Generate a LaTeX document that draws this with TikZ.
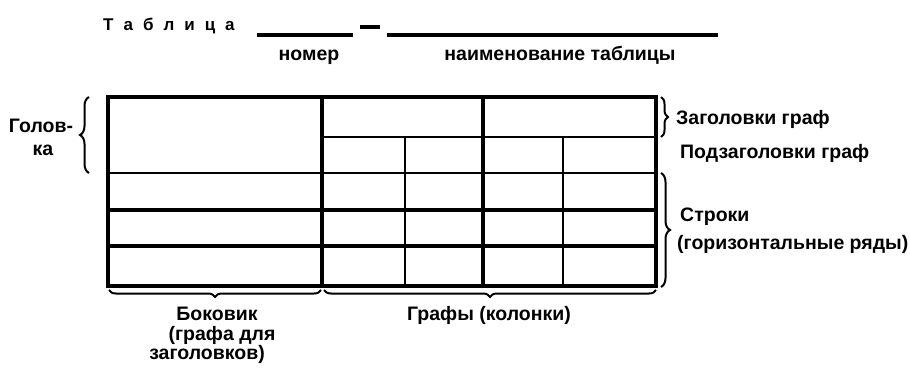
\documentclass[tikz,border=0pt]{standalone}
\usepackage{fontspec}
\setmainfont{Liberation Sans}
\usetikzlibrary{decorations.pathreplacing}
\begin{document}
\begin{tikzpicture}[x=1pt,y=-1pt,
  lbl/.style={font=\fontsize{19.5}{21}\selectfont\bfseries, inner sep=0pt},
  thick rule/.style={line width=3.2pt},
  thin rule/.style={line width=2.3pt},
  title rule/.style={line width=3.2pt},
  bracebig/.style={decorate, decoration={brace, amplitude=9pt}, line width=2pt},
  bracesmall/.style={decorate, decoration={brace, amplitude=7pt}, line width=2pt}]
\useasboundingbox[fill=white] (0,0) rectangle (910,369);

% title
\node[lbl, anchor=base west, font=\fontsize{17}{19}\selectfont\bfseries] (title) at (103,31)
  {Т\hspace{10pt}а\hspace{10pt}б\hspace{10pt}л\hspace{10pt}и\hspace{10pt}ц\hspace{10pt}а};
\draw[title rule] (257,35) -- (353,35);
\draw[title rule] (360,27) -- (380,27);
\draw[title rule] (387,35) -- (718,35);
\node[lbl, anchor=base] (nomer) at (309,61) {номер};
\node[lbl, anchor=base] (naim) at (560,61) {наименование таблицы};

% table
\draw[thick rule] (108,97) rectangle (656,286);
\draw[thin rule] (322,137) -- (656,137);
\draw[thin rule] (108,173) -- (656,173);
\draw[thick rule] (108,210) -- (656,210);
\draw[thick rule] (108,246) -- (656,246);
\draw[thick rule] (322,97) -- (322,286);
\draw[thick rule] (483,97) -- (483,286);
\draw[thin rule] (405,137) -- (405,286);
\draw[thin rule] (563,137) -- (563,286);

% braces
\draw[bracebig] (89,173) -- (89,97);
\draw[bracesmall] (661,97) -- (661,137);
\draw[bracebig] (661,173) -- (661,287);
\draw[bracesmall] (321,290) -- (109,290);
\draw[bracesmall] (656,290) -- (324,290);

% labels
\node[lbl, anchor=base] (golov1) at (41,132) {Голов-};
\node[lbl, anchor=base] (golov2) at (43,155) {ка};
\node[lbl, anchor=base west] (zag) at (676,124) {Заголовки граф};
\node[lbl, anchor=base west] (podzag) at (680,158) {Подзаголовки граф};
\node[lbl, anchor=base west] (stroki) at (680,221) {Строки};
\node[lbl, anchor=base west] (gor) at (677,249) {(горизонтальные ряды)};
\node[lbl, anchor=base] (bok1) at (217,320) {Боковик};
\node[lbl, anchor=base] (bok2) at (222,340) {(графа для};
\node[lbl, anchor=base] (bok3) at (207,359) {заголовков)};
\node[lbl, anchor=base] (grafy) at (489,320) {Графы (колонки)};
\end{tikzpicture}
\end{document}
